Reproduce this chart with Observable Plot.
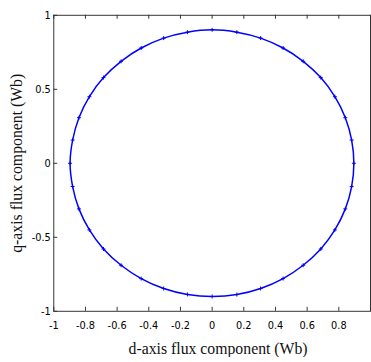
<!DOCTYPE html>
<html>
<head>
<meta charset="utf-8">
<script src="https://cdn.jsdelivr.net/npm/d3@7"></script>
<script src="https://cdn.jsdelivr.net/npm/@observablehq/plot@0.6"></script>
<style>
  html, body { margin: 0; padding: 0; background: #fff; overflow: hidden; }
  #chart { width: 371px; height: 362px; overflow: hidden; }
  #chart svg { font-stretch: condensed; }
</style>
</head>
<body>
<div id="chart"></div>
<script>
// d-axis and q-axis flux components (Wb), traced counter-clockwise
const dFlux = [0.895, 0.881, 0.841, 0.775, 0.686, 0.575, 0.448, 0.306, 0.156, 0.00, -0.156, -0.306,
  -0.448, -0.575, -0.686, -0.775, -0.841, -0.881, -0.897, -0.881, -0.841, -0.775, -0.686, -0.575,
  -0.448, -0.306, -0.156, 0.00, 0.156, 0.306, 0.448, 0.575, 0.686, 0.775, 0.841, 0.881];
const qFlux = [0.00, 0.157, 0.308, 0.450, 0.579, 0.689, 0.779, 0.846, 0.886, 0.902, 0.886, 0.846,
  0.779, 0.689, 0.579, 0.450, 0.308, 0.157, 0.00, -0.157, -0.308, -0.450, -0.579, -0.689,
  -0.779, -0.846, -0.886, -0.900, -0.887, -0.846, -0.779, -0.689, -0.579, -0.450, -0.308, -0.157];

const xTicks = [-1, -0.8, -0.6, -0.4, -0.2, 0, 0.2, 0.4, 0.6, 0.8, 1];
const xTickLabels = [-1, -0.8, -0.6, -0.4, -0.2, 0, 0.2, 0.4, 0.6, 0.8];
const yTicks = [-1, -0.5, 0, 0.5, 1];
const xTitle = "d-axis flux component (Wb)";
const yTitle = "q-axis flux component (Wb)";

const points = dFlux.map((d, i) => ({d, q: qFlux[i]}));

const W = 376, H = 362, mL = 54, mR = 1, mT = 15, mB = 47;
const innerW = W - mL - mR, innerH = H - mT - mB;
const tickLen = 4;
const serif = "'Liberation Serif', 'DejaVu Serif', serif";

const chart = Plot.plot({
  width: W,
  height: H,
  marginLeft: mL,
  marginRight: mR,
  marginTop: mT,
  marginBottom: mB,
  style: {fontFamily: "'DejaVu Sans Condensed', 'Liberation Sans Narrow', sans-serif", fontSize: "11px", background: "#fff", color: "#000"},
  x: {domain: [-1, 1]},
  y: {domain: [-1, 1]},
  marks: [
    Plot.frame({stroke: "#333", strokeWidth: 1}),
    // inward ticks
    Plot.tickX(xTicks, {x: d => d, insetTop: innerH - tickLen, stroke: "#333"}),
    Plot.tickX(xTicks, {x: d => d, insetBottom: innerH - tickLen, stroke: "#333"}),
    Plot.tickY(yTicks, {y: d => d, insetRight: innerW - tickLen, stroke: "#333"}),
    Plot.axisX(xTickLabels, {tickSize: 0, tickPadding: 10, label: null, tickFormat: d => String(d)}),
    Plot.axisY(yTicks, {tickSize: 0, tickPadding: 3, label: null, tickFormat: d => String(d)}),
    Plot.line(points, {x: "d", y: "q", stroke: "#0000ff", strokeWidth: 1.5, curve: "catmull-rom-closed"}),
    Plot.dot(points, {x: "d", y: "q", symbol: "plus", r: 1.4, stroke: "#0000ff", strokeWidth: 1}),
    Plot.text([xTitle], {frameAnchor: "bottom", dy: 43, dx: 6, textAnchor: "middle", lineAnchor: "bottom", text: d => d, fontFamily: serif, fontSize: 16, fill: "#111"}),
    Plot.text([yTitle], {frameAnchor: "left", dx: -37, rotate: -90, textAnchor: "middle", text: d => d, fontFamily: serif, fontSize: 16, fill: "#111"})
  ]
});
document.getElementById("chart").appendChild(chart);
</script>
</body>
</html>
